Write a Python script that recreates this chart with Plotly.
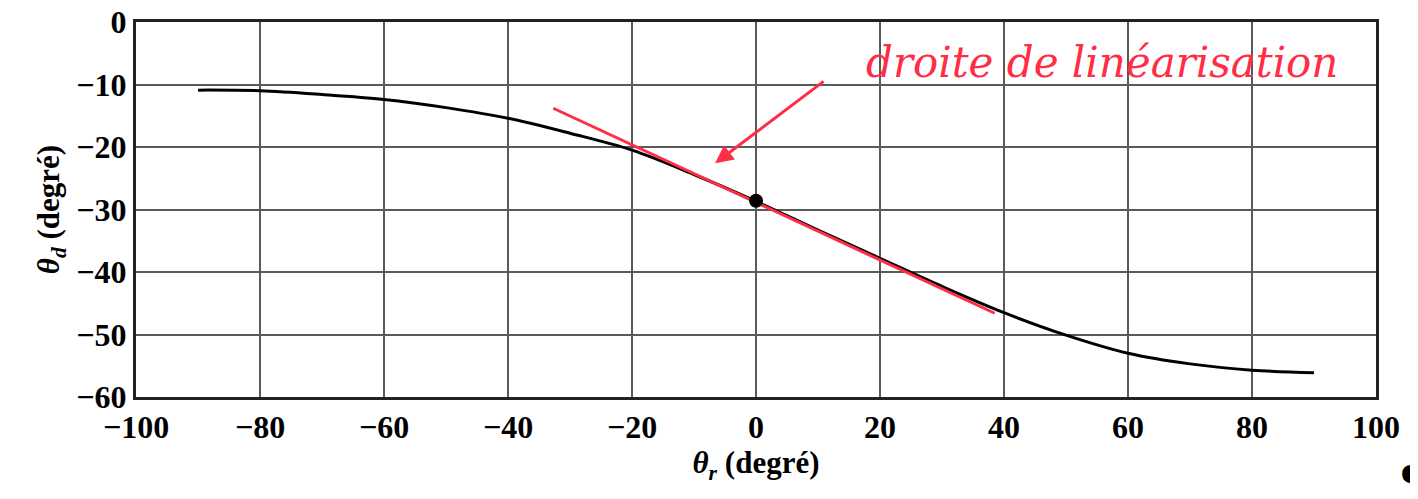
import plotly.graph_objects as go

# Curve theta_d vs theta_r (degrees)
theta_r = [-90, -80, -70, -60, -50, -40, -30, -20, -10, 0, 10, 20, 30, 40, 50, 60, 70, 80, 90]
theta_d = [-10.9, -11.0, -11.6, -12.4, -13.7, -15.4, -17.8, -20.5, -24.4, -28.7,
           -33.3, -37.8, -42.3, -46.5, -50.1, -53.0, -54.7, -55.7, -56.1]

# Linearisation line (tangent at the operating point)
lin_x = [-32.7, 38.5]
lin_y = [-13.8, -46.6]

# Operating point
op_x = [0]
op_y = [-28.6]

x_ticks = [-100, -80, -60, -40, -20, 0, 20, 40, 60, 80, 100]
y_ticks = [0, -10, -20, -30, -40, -50, -60]

RED = "rgb(255,45,70)"
FONT = "Liberation Serif"

fig = go.Figure()
fig.add_trace(go.Scatter(x=theta_r, y=theta_d, mode="lines", line=dict(color="black", width=3, shape="spline"),
                         showlegend=False, hoverinfo="skip"))
fig.add_trace(go.Scatter(x=lin_x, y=lin_y, mode="lines", line=dict(color=RED, width=3),
                         showlegend=False, hoverinfo="skip"))
fig.add_trace(go.Scatter(x=op_x, y=op_y, mode="markers", marker=dict(color="black", size=14),
                         showlegend=False, hoverinfo="skip"))

fig.update_layout(
    width=1418, height=499,
    margin=dict(l=128, r=50, t=14, b=110, autoexpand=False),
    paper_bgcolor="white", plot_bgcolor="white",
    font=dict(family=FONT, color="black"),
)
fig.update_xaxes(
    range=[-100, 100], tickvals=x_ticks, ticks="", showgrid=True, gridcolor="#5a5a5a", gridwidth=2,
    zeroline=False, showline=True, linecolor="#222", linewidth=3, mirror=True, automargin=False,
    ticklabeloverflow="allow",
    tickfont=dict(family=FONT, size=32, weight="bold", color="black"),
    title=dict(text="<b><i>θ</i><sub><i>r</i></sub> (degré)</b>", font=dict(family=FONT, size=31), standoff=6),
)
fig.update_yaxes(
    range=[-60, 0], tickvals=y_ticks, ticks="", showgrid=True, gridcolor="#5a5a5a", gridwidth=2,
    zeroline=False, showline=True, linecolor="#222", linewidth=3, mirror=True, automargin=False,
    ticklabeloverflow="allow",
    tickfont=dict(family=FONT, size=32, weight="bold", color="black"),
    title=dict(text="<b><i>θ</i><sub><i>d</i></sub> (degré)</b>", font=dict(family=FONT, size=31), standoff=8),
)

fig.add_annotation(
    x=-6.6, y=-22.6, xref="x", yref="y", ax=110, ay=-83, showarrow=True,
    arrowhead=2, arrowsize=1.2, arrowwidth=3, arrowcolor=RED, text="",
)
fig.add_annotation(
    x=(1102 - 136) / 1240, y=(397 - 62) / 375, xref="paper", yref="paper",
    text="<i>droite de linéarisation</i>", showarrow=False,
    font=dict(family="DejaVu Serif", size=42, color=RED), xanchor="center", yanchor="middle",
)
fig.add_annotation(
    x=(1398 - 136) / 1240, y=(397 - 480) / 375, xref="paper", yref="paper",
    text="<b>¶</b>", showarrow=False, font=dict(family=FONT, size=46, color="black"),
    xanchor="left", yanchor="middle",
)

fig.write_html("out.html")
